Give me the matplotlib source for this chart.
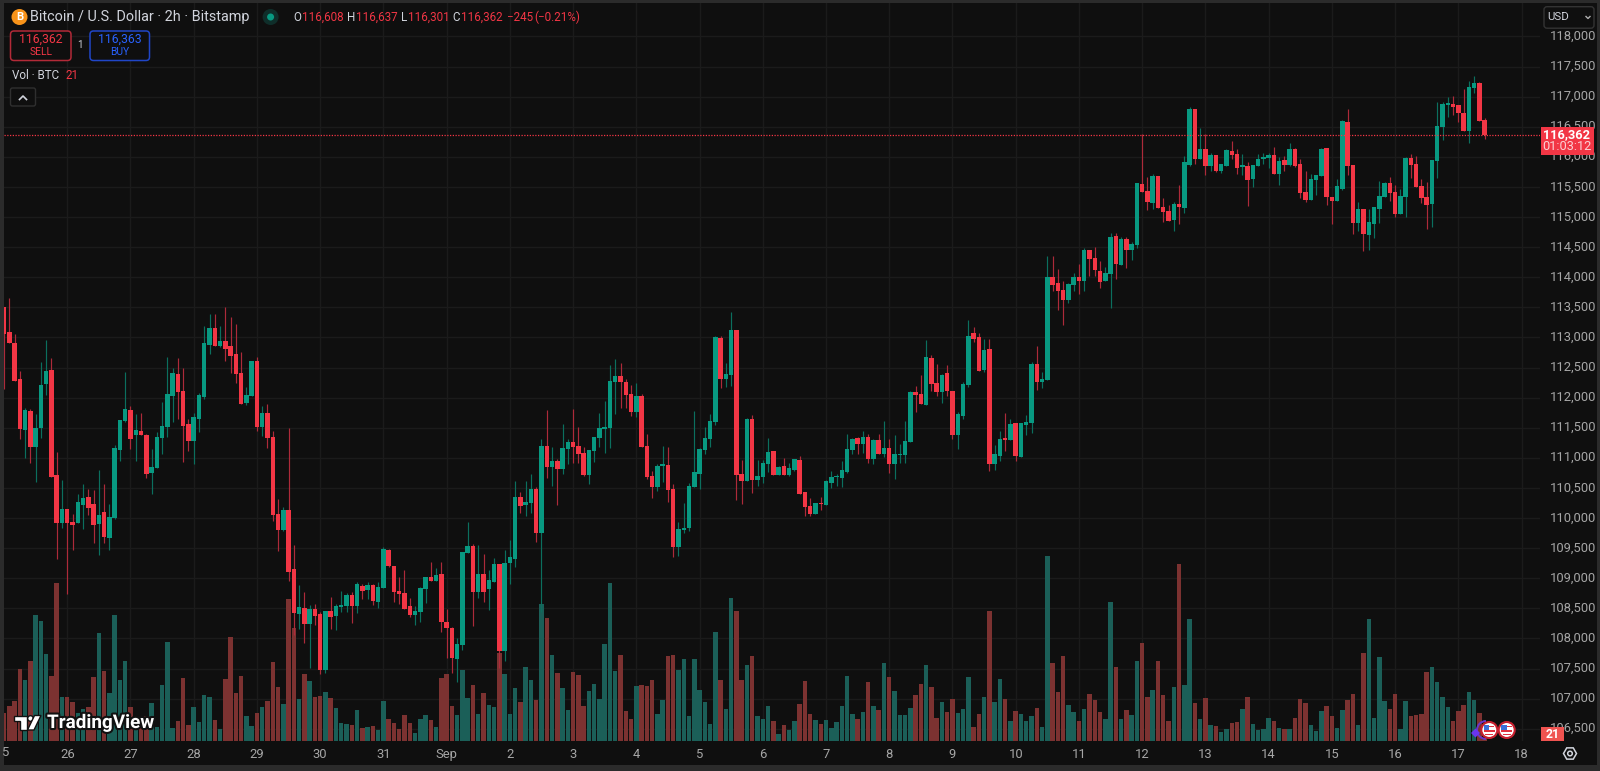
import matplotlib
matplotlib.use('Agg')
import matplotlib.pyplot as plt
import matplotlib.patheffects as pe
from matplotlib.patches import Rectangle, FancyBboxPatch, Circle, Polygon, RegularPolygon, Arc
from matplotlib.transforms import ScaledTranslation
import numpy as np

plt.rcParams['font.family'] = ['Roboto', 'DejaVu Sans']

# 2h candles, Aug 25 to Sep 17
opens = [
    113511, 113085, 112902, 112310, 111468, 111778, 111174, 111496, 112221, 112459, 110709, 109923,
    110150, 109934, 109923, 110216, 110344, 110228, 109906, 110100, 109674, 110006, 111136, 111612,
    111800, 111374, 111440, 111379, 110748, 110831, 111335, 111518, 112033, 112387, 112110, 111556,
    111274, 111651, 112016, 112869, 113157, 112863, 112941, 112858, 112725, 112415, 111916, 112033,
    112608, 111507, 111745, 111346, 110067, 109801, 110133, 109148, 108411, 108500, 108240, 108489,
    108406, 107476, 108456, 108367, 108528, 108539, 108716, 108539, 108871, 108804, 108882, 108611,
    108832, 109469, 109203, 108788, 108749, 108544, 108395, 108439, 108821, 109026, 108948, 109070,
    108278, 108179, 107653, 107886, 109425, 109536, 108777, 109071, 108827, 108943, 109237, 107797,
    109259, 109320, 110344, 110222, 110250, 110477, 109757, 111202, 110853, 110942, 110809, 111141,
    111263, 111202, 111086, 110715, 111119, 111335, 111485, 111496, 112254, 112360, 112254, 112066,
    111756, 112022, 111202, 110704, 110516, 110870, 110881, 110483, 109525, 109801, 109829, 110516,
    110732, 111130, 111319, 111595, 112991, 112310, 112371, 113118, 110732, 110616, 111646, 110632,
    110677, 110898, 111114, 110715, 110865, 110715, 110798, 110970, 110433, 110200, 110068, 110256,
    110217, 110583, 110677, 110671, 110765, 111131, 111336, 111230, 111347, 110981, 111297, 111070,
    111164, 110893, 111042, 111042, 111264, 112094, 112066, 111878, 112664, 112244, 112094, 112404,
    112111, 111380, 111695, 112210, 113074, 113002, 112460, 112808, 110893, 111037, 111330, 111297,
    111574, 111020, 111546, 111579, 112559, 112260, 112293, 114004, 113905, 113788, 113622, 113871,
    114004, 113932, 114453, 114314, 114110, 113932, 114047, 114679, 114208, 114634, 114452, 114530,
    115554, 115438, 115227, 115676, 115172, 115100, 114950, 115216, 115155, 115864, 116794, 115964,
    116130, 115847, 116035, 115764, 115847, 116102, 116047, 115836, 115847, 115626, 115842, 115969,
    115975, 116024, 115714, 115947, 115858, 116124, 115875, 115415, 115282, 115609, 115681, 116141,
    115332, 115271, 115471, 116573, 115858, 114906, 115133, 114701, 114884, 115138, 115332, 115570,
    115415, 115055, 115332, 115980, 115875, 115509, 115332, 115222, 115930, 116501, 116860, 116877,
    116860, 116722, 116429, 117137, 117220, 116608,
]
closes = [
    113057, 112902, 112282, 111484, 111795, 111174, 111496, 112210, 112442, 110676, 109923, 110150,
    109923, 109884, 110266, 110333, 110167, 109890, 110050, 109685, 110017, 111163, 111628, 111806,
    111318, 111457, 111374, 110737, 110853, 111346, 111529, 112055, 112404, 112099, 111534, 111274,
    111673, 112038, 112913, 113157, 112863, 112941, 112808, 112692, 112398, 111900, 112049, 112608,
    111507, 111745, 111335, 110045, 109801, 110133, 109109, 108417, 108517, 108240, 108489, 108367,
    107476, 108450, 108350, 108544, 108550, 108721, 108539, 108910, 108793, 108882, 108627, 108849,
    109485, 109209, 108777, 108732, 108494, 108389, 108456, 108838, 109026, 108948, 109054, 108278,
    108179, 107680, 107902, 109441, 109536, 108777, 109071, 108777, 108971, 109237, 107797, 109259,
    109347, 110344, 110206, 110267, 110477, 109757, 111197, 110853, 110942, 110809, 111158, 111263,
    111186, 111069, 110715, 111130, 111346, 111496, 111512, 112271, 112360, 112254, 112044, 111756,
    112022, 111186, 110687, 110516, 110865, 110881, 110466, 109525, 109818, 109835, 110532, 110765,
    111147, 111335, 111612, 113002, 112310, 112393, 113118, 110715, 110615, 111646, 110632, 110699,
    110915, 111103, 110715, 110854, 110715, 110826, 110976, 110405, 110178, 110062, 110250, 110234,
    110610, 110682, 110693, 110798, 111147, 111319, 111230, 111347, 110981, 111297, 111070, 111164,
    110893, 111064, 111064, 111280, 112094, 112044, 111895, 112670, 112221, 112094, 112376, 112105,
    111385, 111734, 112227, 113019, 112980, 112443, 112792, 110898, 111064, 111319, 111297, 111557,
    111026, 111574, 111596, 112559, 112260, 112310, 114004, 113871, 113772, 113622, 113888, 114004,
    113932, 114453, 114298, 114121, 113916, 114071, 114662, 114219, 114634, 114452, 114551, 115559,
    115421, 115244, 115676, 115144, 115083, 114939, 115216, 115161, 115908, 116794, 115964, 116130,
    115847, 116035, 115770, 115875, 116119, 116030, 115820, 115847, 115615, 115858, 115969, 115997,
    116035, 115714, 115930, 115858, 116124, 115853, 115399, 115282, 115626, 115698, 116135, 115332,
    115271, 115509, 116589, 115847, 114906, 115133, 114723, 114917, 115166, 115349, 115570, 115399,
    115055, 115349, 115980, 115858, 115493, 115316, 115199, 115947, 116517, 116877, 116888, 116833,
    116722, 116429, 117159, 117220, 116600, 116362,
]
highs = [
    113511, 113650, 113051, 112437, 111822, 111806, 111728, 112586, 112957, 112653, 111097, 110632,
    110150, 110067, 110399, 110565, 110477, 110466, 110798, 110565, 110233, 111208, 111628, 112420,
    111861, 111728, 111745, 111396, 111147, 111424, 111927, 112669, 112492, 112653, 112492, 111645,
    111745, 112077, 113190, 113389, 113389, 113190, 113500, 113339, 113223, 112752, 112177, 112608,
    112675, 111861, 111894, 111440, 110316, 110183, 111496, 109552, 108888, 108777, 108555, 108566,
    108445, 108450, 108694, 108566, 108788, 108749, 108777, 108932, 108899, 108937, 108899, 108932,
    109524, 109480, 109203, 109026, 109137, 108666, 108539, 108860, 109026, 109264, 109164, 109264,
    108489, 108195, 108002, 109441, 109934, 109569, 109552, 109403, 109137, 109336, 109237, 109469,
    109630, 110615, 110427, 110615, 110737, 110510, 111307, 111795, 111180, 110975, 111568, 111307,
    111806, 111512, 111186, 111130, 111346, 111745, 111944, 112548, 112636, 112570, 112310, 112210,
    112243, 112055, 111396, 110776, 110898, 111197, 111180, 110566, 109934, 110244, 110582, 111778,
    111164, 111512, 111728, 113018, 113018, 112576, 113423, 113118, 110959, 111662, 111712, 110959,
    110959, 111336, 111114, 110865, 110998, 110915, 110976, 111026, 110433, 110333, 110250, 110350,
    110632, 110782, 110738, 110948, 111396, 111330, 111352, 111446, 111396, 111313, 111396, 111612,
    111313, 111380, 111230, 111612, 112111, 112188, 112376, 112958, 112709, 112559, 112393, 112537,
    112111, 111762, 112260, 113290, 113174, 113074, 112975, 112975, 111219, 111441, 111745, 111646,
    111579, 111574, 111712, 112593, 112858, 112426, 114359, 114359, 114137, 113938, 113910, 114071,
    114220, 114481, 114453, 114503, 114270, 114170, 114740, 114740, 114662, 114662, 114579, 115559,
    116373, 115659, 115714, 115676, 115316, 115194, 115255, 115526, 116008, 116827, 116794, 116473,
    116373, 116069, 116035, 115875, 116130, 116262, 116124, 116041, 115908, 115858, 116052, 116058,
    116069, 116168, 115997, 116013, 116224, 116141, 115958, 115764, 115714, 115698, 116152, 116141,
    115332, 115626, 116606, 116794, 115858, 115244, 115133, 115133, 115166, 115598, 115581, 115659,
    115532, 115465, 115991, 116047, 116008, 115631, 115581, 115947, 116910, 116905, 117000, 117010,
    116860, 117126, 117259, 117342, 117248, 116637,
]
lows = [
    112149, 112902, 112282, 111307, 111003, 110920, 110604, 111335, 112044, 110676, 109314, 109829,
    108732, 109469, 109923, 109812, 110050, 109591, 109391, 109580, 109463, 109984, 110947, 111595,
    111152, 110947, 111374, 110671, 110399, 110831, 111069, 111346, 111595, 111640, 110936, 111113,
    110898, 111429, 111977, 112730, 112863, 112847, 112614, 112415, 112249, 111900, 111883, 112033,
    111446, 111363, 111169, 109945, 109447, 109790, 108954, 108057, 108151, 107919, 107503, 108223,
    107404, 107420, 108151, 108140, 108445, 108445, 108251, 108428, 108649, 108649, 108555, 108500,
    108832, 109192, 108600, 108566, 108483, 108350, 108223, 108273, 108583, 108948, 108948, 108112,
    107669, 107431, 107282, 107808, 109414, 108207, 108666, 108600, 108473, 108943, 107509, 107631,
    108904, 109192, 110078, 110040, 110089, 109608, 108445, 110660, 110532, 110222, 110732, 110898,
    110920, 110920, 110704, 110566, 110937, 111180, 111086, 111164, 111728, 111834, 111834, 111701,
    111684, 111186, 110649, 110339, 110449, 110599, 110267, 109358, 109370, 109757, 109785, 110516,
    110483, 111064, 111180, 111546, 112160, 112177, 112193, 110300, 110233, 110616, 110411, 110538,
    110588, 110760, 110715, 110715, 110715, 110699, 110787, 110405, 110034, 110040, 110068, 110134,
    110217, 110499, 110533, 110516, 110749, 111064, 111064, 111081, 110915, 110893, 111070, 111020,
    110754, 110649, 110915, 110915, 111264, 111756, 111895, 111878, 112111, 112033, 111911, 112028,
    111313, 111142, 111646, 112177, 112925, 112443, 112426, 110787, 110798, 110948, 111114, 111291,
    110948, 111020, 111385, 111413, 112127, 112161, 112293, 113772, 113462, 113207, 113572, 113772,
    113722, 113772, 114021, 114021, 113822, 113932, 113483, 113970, 114208, 114147, 114286, 114485,
    115421, 115116, 115127, 115144, 114923, 114939, 114773, 114884, 115072, 115847, 115875, 115964,
    115703, 115759, 115753, 115736, 115847, 115958, 115714, 115698, 115188, 115493, 115842, 115880,
    115820, 115714, 115532, 115764, 115842, 115836, 115310, 115244, 115282, 115366, 115681, 115199,
    114884, 115271, 115454, 115703, 114712, 114773, 114430, 114446, 114646, 114906, 115332, 115260,
    114999, 115050, 114999, 115642, 115493, 115227, 114795, 114839, 115648, 116279, 116667, 116694,
    116573, 116429, 116224, 117054, 116600, 116301,
]
volumes = [
    170, 210, 238, 432, 366, 482, 756, 720, 522, 392, 946, 264,
    264, 232, 166, 192, 202, 384, 648, 422, 290, 756, 366, 480,
    206, 66, 136, 152, 228, 84, 334, 592, 80, 120, 376, 96,
    206, 116, 276, 264, 126, 70, 370, 624, 290, 390, 150, 90,
    168, 202, 238, 474, 324, 222, 850, 680, 252, 402, 360, 264,
    270, 292, 258, 196, 108, 102, 96, 186, 80, 84, 90, 64,
    238, 132, 108, 70, 154, 108, 48, 132, 154, 126, 84, 376,
    402, 210, 154, 424, 258, 334, 164, 286, 216, 202, 528, 402,
    164, 318, 232, 444, 366, 244, 822, 738, 516, 408, 318, 186,
    414, 396, 210, 300, 340, 250, 582, 950, 420, 516, 180, 132,
    330, 336, 330, 366, 160, 244, 508, 516, 426, 492, 150, 492,
    306, 232, 102, 654, 366, 192, 856, 780, 366, 456, 508, 150,
    132, 208, 118, 42, 96, 64, 118, 222, 360, 164, 126, 102,
    126, 78, 112, 208, 390, 164, 132, 174, 354, 210, 186, 466,
    382, 300, 154, 154, 196, 276, 342, 454, 324, 138, 232, 174,
    252, 168, 190, 382, 84, 164, 264, 780, 232, 372, 252, 118,
    180, 164, 118, 150, 196, 84, 1110, 470, 292, 508, 216, 174,
    118, 192, 280, 244, 174, 132, 834, 444, 132, 186, 154, 480,
    586, 264, 306, 480, 274, 118, 324, 1062, 334, 732, 228, 132,
    256, 96, 90, 54, 70, 106, 116, 192, 264, 102, 64, 70,
    138, 120, 80, 70, 74, 138, 252, 226, 96, 60, 180, 208,
    148, 80, 186, 248, 280, 96, 528, 732, 138, 502, 238, 190,
    280, 70, 238, 150, 154, 160, 412, 444, 354, 264, 206, 118,
    180, 216, 292, 244, 168, 21,
]

day_positions = [12 * i for i in range(1, 25)]
day_labels = ['26', '27', '28', '29', '30', '31', 'Sep', '2', '3', '4', '5', '6',
              '7', '8', '9', '10', '11', '12', '13', '14', '15', '16', '17', '18']
price_ticks = list(range(106500, 118001, 500))

last_price = 116362

BG = '#0f0f0f'
GRID = '#1b1b1b'
UP = '#089981'
DOWN = '#f23645'
UP_WICK = '#0b6f5e'
DOWN_WICK = '#ad2a3a'
UP_VOL = '#1b5f58'
DOWN_VOL = '#7c3231'
LABEL = '#a6a6a6'
STRIP = '#2b2b2b'

W, H = 1600, 771
fig = plt.figure(figsize=(W / 100, H / 100), dpi=100, facecolor=BG)

# price pane, placed by hand to sit where the screenshot has it
ax = fig.add_axes([3.5 / W, 1 - 741 / H, (1540 - 3.5) / W, (741 - 3) / H], facecolor=BG)
ax.set_xlim(-0.1, 291.5)
ax.set_ylim(106297, 118555)

o = np.array(opens)
c = np.array(closes)
h = np.array(highs)
l = np.array(lows)
v = np.array(volumes)
idx = np.arange(len(o))
up = c >= o

# volume sits on the bottom edge, 4428 BTC would fill the pane
vol_top = 4428
ax.bar(idx, v / vol_top, width=0.85, color=np.where(up, UP_VOL, DOWN_VOL),
       transform=ax.get_xaxis_transform(), zorder=2)

ax.vlines(idx, l, h, colors=np.where(up, UP_WICK, DOWN_WICK), linewidth=0.85, zorder=3)
body_low = np.minimum(o, c)
body_h = np.maximum(np.abs(c - o), 20)
ax.bar(idx, body_h, bottom=body_low, width=0.85, color=np.where(up, UP, DOWN), zorder=4)

ax.axhline(last_price, color=DOWN, linewidth=0.9, linestyle=(0, (1, 1.2)), zorder=5)

ax.set_xlim(-0.1, 291.5)
ax.set_ylim(106297, 118555)
ax.set_axisbelow(True)
ax.grid(True, color=GRID, linewidth=1)
for s in ax.spines.values():
    s.set_visible(False)
ax.set_xticks(day_positions)
ax.set_xticklabels(day_labels)
ax.set_yticks(price_ticks)
ax.set_yticklabels([f'{p:,}' for p in price_ticks])
ax.yaxis.tick_right()
ax.tick_params(axis='both', length=0, colors=LABEL, labelsize=9.4)
ax.tick_params(axis='x', pad=5)
ax.tick_params(axis='y', pad=7)
for t in ax.get_yticklabels():
    t.set_transform(t.get_transform() + ScaledTranslation(0, 1.6 / 100, fig.dpi_scale_trans))

# overlay in screen pixels for the TradingView chrome
ui = fig.add_axes([0, 0, 1, 1], facecolor='none')
ui.set_xlim(0, W)
ui.set_ylim(H, 0)
ui.axis('off')

ui.add_patch(Rectangle((0, 0), 3.5, H, color=STRIP, lw=0))
ui.add_patch(Rectangle((0, 0), W, 3, color=STRIP, lw=0))
ui.add_patch(Rectangle((0, 765), W, 6, color=STRIP, lw=0))
ui.add_patch(Rectangle((1597, 0), 3, H, color=STRIP, lw=0))

ui.text(6, 752.7, '5', color=LABEL, fontsize=9.4, ha='center', va='center')

# header, no installed font has the bitcoin sign so a bold B stands in
ui.add_patch(Circle((19.5, 17), 8, color='#f7931a', lw=0))
ui.text(19.5, 17, 'B', color='white', fontsize=8, ha='center', va='center', fontweight='bold')
ui.text(30.5, 17.5, 'Bitcoin / U.S. Dollar · 2h · Bitstamp', color='#d1d4dc', fontsize=10.4,
        va='center')
ui.add_patch(Circle((270.6, 17), 8, color='#0f2e2a', lw=0))
ui.add_patch(Circle((270.6, 17), 3.5, color=UP, lw=0))

ohlc = [(293, 'O'), (347, 'H'), (400.7, 'L'), (452.7, 'C')]
vals = [(302, '116,608'), (356, '116,637'), (408, '116,301'), (461, '116,362'),
        (507, '−245'), (534, '(−0.21%)')]
for x, s in ohlc:
    ui.text(x, 17.5, s, color='#d1d4dc', fontsize=8.4, va='center')
for x, s in vals:
    ui.text(x, 17.5, s, color=DOWN, fontsize=8.4, va='center')

# sell / buy boxes
ui.add_patch(FancyBboxPatch((10.5, 31), 60.5, 29.5, boxstyle='round,pad=0,rounding_size=3.5',
                            fc=BG, ec='#b32a38', lw=1.1))
ui.text(41, 39.5, '116,362', color=DOWN, fontsize=8.8, ha='center', va='center')
ui.text(41, 52, 'SELL', color=DOWN, fontsize=7.4, ha='center', va='center')
ui.text(80, 45.5, '1', color='#d1d4dc', fontsize=7, ha='center', va='center')
ui.add_patch(FancyBboxPatch((90, 31), 59.5, 29.5, boxstyle='round,pad=0,rounding_size=3.5',
                            fc=BG, ec='#2046c8', lw=1.1))
ui.text(119.5, 39.5, '116,363', color='#2962ff', fontsize=8.8, ha='center', va='center')
ui.text(119.5, 52, 'BUY', color='#2962ff', fontsize=7.4, ha='center', va='center')

ui.text(11.5, 75.5, 'Vol · BTC', color='#d1d4dc', fontsize=8.4, va='center')
ui.text(65, 75.5, '21', color=DOWN, fontsize=8.4, va='center')
ui.add_patch(FancyBboxPatch((10.5, 88), 25, 18, boxstyle='round,pad=0,rounding_size=2',
                            fc=BG, ec='#2f2f2f', lw=1))
ui.plot([19.5, 23, 26.5], [99.5, 96, 99.5], color='#d1d4dc', lw=1.2)

# currency button covers the 118,000 label a bit
ui.add_patch(FancyBboxPatch((1544, 6.7), 50, 21.5, boxstyle='round,pad=0,rounding_size=3',
                            fc=BG, ec='#333333', lw=1))
ui.text(1547.5, 17.5, 'USD', color='#d1d4dc', fontsize=8.2, va='center')
ui.plot([1586, 1588, 1590], [16.5, 18.5, 16.5], color='#b0b0b0', lw=1)

# last price tag
ui.add_patch(Rectangle((1541, 127.3), 53, 27.7, color=DOWN, lw=0))
ui.text(1567, 134.5, '116,362', color='white', fontsize=9.2, fontweight='bold', ha='center', va='center')
ui.text(1567, 146.5, '01:03:12', color='#fbd0d4', fontsize=9.2, ha='center', va='center')

# volume tag
ui.add_patch(Rectangle((1541, 727), 23, 13.7, color='#ef5350', lw=0))
ui.text(1552.5, 734, '21', color='white', fontsize=8.8, fontweight='bold', ha='center', va='center')

# event markers
ui.add_patch(Arc((1486, 730), 18, 18, theta1=90, theta2=270, color='#6a35c9', lw=1.4))
ui.add_patch(RegularPolygon((1475.5, 733), 4, radius=4.5, color='#6a35f0', lw=0))
for cx in (1489.3, 1506.7):
    ui.add_patch(Circle((cx, 730), 8, fc='white', ec='#c8202f', lw=1.5, zorder=6))
    ui.add_patch(Rectangle((cx - 5.5, 730), 11, 1.8, color='#e0313f', lw=0, zorder=7))
    ui.add_patch(Rectangle((cx - 4, 733.5), 8, 1.6, color='#e0313f', lw=0, zorder=7))
    ui.add_patch(Rectangle((cx - 5.5, 724.8), 5.5, 5.2, color='#3a6fd8', lw=0, zorder=7))
    ui.add_patch(Rectangle((cx, 725.5), 5, 1.6, color='#e0313f', lw=0, zorder=7))

# settings gear
ui.add_patch(RegularPolygon((1570, 753.5), 6, radius=6.5, orientation=np.pi / 2,
                            fc='none', ec='#d1d4dc', lw=1.1))
ui.add_patch(Circle((1570, 753.5), 2.3, fc='none', ec='#d1d4dc', lw=1.1))

# TradingView mark
outline = [pe.withStroke(linewidth=3, foreground='#111111')]
ui.text(47, 723, 'TradingView', color='white', fontsize=13.6, fontweight='bold', va='center',
        path_effects=outline)
mark = [Polygon([(13.5, 715.5), (26.5, 715.5), (26.5, 730), (19.5, 730), (19.5, 721), (13.5, 721)], closed=True),
        Circle((30.5, 718.5), 2.8),
        Polygon([(27.5, 730), (34.5, 715.5), (41, 715.5), (34, 730)], closed=True)]
for m in mark:
    m.set(fc='white', ec='#111111', lw=1, zorder=6)
    ui.add_patch(m)

fig.savefig('out.png', dpi=100, facecolor=BG)
